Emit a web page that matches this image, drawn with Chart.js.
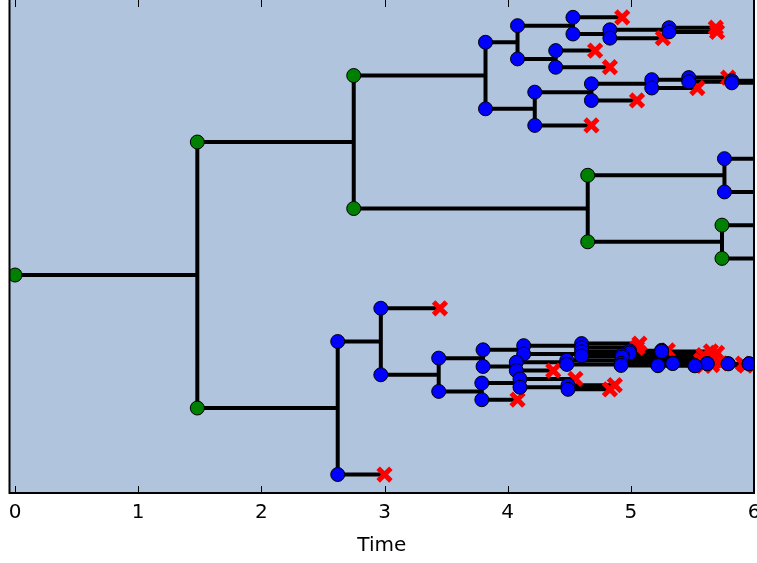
<!DOCTYPE html>
<html>
<head>
<meta charset="utf-8">
<script src="https://cdn.jsdelivr.net/npm/chart.js@4.4.1/dist/chart.umd.min.js"></script>
<style>
  body { margin: 0; background: #fff; }
  #wrap { width: 757px; height: 563px; }
</style>
</head>
<body>
<div id="wrap"><canvas id="tree" width="757" height="563"></canvas></div>
<script>
// lineage tree: one entry per node, index = node id
// parentOf: -1 for the root
const parentOf = [-1, 0, 0, 1, 1, 4, 4, 5, 5, 6, 6, 3, 3, 11, 11, 13, 13, 16, 16, 17,
  17, 14, 14, 12, 12, 23, 23, 25, 25, 27, 27, 30, 30, 2, 2, 34, 34, 36, 36, 37,
  37, 38, 38, 39, 39, 40, 40, 41, 41, 48, 48, 43, 43, 44, 44, 53, 53, 55, 55, 54,
  54, 45, 45, 62, 62, 63, 63, 66, 66, 68, 68, 70, 70, 64, 64, 74, 74];
// vertical position of each lineage
const yPos = [0, 1, -1, 1.5, 0.5, 0.75, 0.25, 0.875, 0.625, 0.375, 0.125, 1.75, 1.25, 1.875, 1.625, 1.9375, 1.8125, 1.8438, 1.7813, 1.8594,
  1.8281, 1.6875, 1.5625, 1.375, 1.125, 1.4375, 1.3125, 1.4688, 1.4063, 1.4844, 1.4531, 1.4609, 1.4453, -1.5, -0.5, -0.25, -0.75, -0.625, -0.875, -0.5625,
  -0.6875, -0.8125, -0.9375, -0.5313, -0.5938, -0.6563, -0.7188, -0.7813, -0.8438, -0.8281, -0.8594, -0.5156, -0.5469, -0.5781, -0.6094, -0.5703, -0.5859, -0.5664, -0.5742, -0.6016,
  -0.6172, -0.6406, -0.6719, -0.6641, -0.6797, -0.6621, -0.6660, -0.6650, -0.6670, -0.6665, -0.6675, -0.6672, -0.6677, -0.6777, -0.6816, -0.6807, -0.6826];
// time at which the lineage splits, dies or the run stops
const endTime = [1.48, 2.75, 2.62, 3.82, 4.65, 5.76, 5.74, 6, 6, 6, 6, 4.08, 4.22, 4.53, 4.39, 4.93, 4.83, 5.31, 5.26, 5.69,
  5.70, 4.71, 4.83, 4.68, 4.68, 5.17, 5.05, 5.47, 5.54, 5.79, 5.82, 6, 6, 3.00, 2.97, 3.45, 3.44, 3.80, 3.79, 4.13,
  4.07, 4.10, 4.08, 4.60, 4.60, 4.48, 4.37, 4.55, 4.49, 4.87, 4.83, 5.07, 5.05, 4.99, 4.93, 5.25, 5.70, 5.30, 5.65, 5.59,
  5.67, 5.57, 4.92, 5.34, 5.22, 5.61, 5.62, 5.73, 5.79, 5.91, 5.96, 6, 6, 5.66, 5.52, 5.93, 5.59];
// S = splits, X = goes extinct, A = still alive at the end
const fate = ['S', 'S', 'S', 'S', 'S', 'S', 'S', 'A', 'A', 'A',
  'A', 'S', 'S', 'S', 'S', 'X', 'S', 'S', 'X', 'X',
  'X', 'X', 'X', 'S', 'X', 'S', 'X', 'S', 'X', 'X',
  'S', 'A', 'A', 'X', 'S', 'X', 'S', 'S', 'S', 'S',
  'S', 'S', 'X', 'S', 'S', 'S', 'X', 'X', 'S', 'X',
  'X', 'X', 'X', 'S', 'S', 'S', 'X', 'X', 'X', 'X',
  'X', 'X', 'S', 'S', 'S', 'X', 'S', 'X', 'S', 'X',
  'S', 'A', 'A', 'X', 'S', 'X', 'X'];
// nodes drawn green; every other node is blue
const greenNodes = [0, 1, 2, 3, 4, 5, 6, 9, 10];
const xTicks = [0, 1, 2, 3, 4, 5, 6];

const bornAt = parentOf.map(p => p < 0 ? 0 : endTime[p]);

const branchPts = [];
yPos.forEach((y, i) => {
  branchPts.push({x: bornAt[i], y: y}, {x: endTime[i], y: y}, {x: null, y: null});
  if (fate[i] === 'S') {
    const kidY = yPos.filter((_, j) => parentOf[j] === i);
    branchPts.push({x: endTime[i], y: Math.min(...kidY)}, {x: endTime[i], y: Math.max(...kidY)}, {x: null, y: null});
  }
});
const greenPts = [], bluePts = [], deadPts = [];
yPos.forEach((y, i) => {
  (greenNodes.includes(i) ? greenPts : bluePts).push({x: bornAt[i], y: y});
  if (fate[i] === 'X') deadPts.push({x: endTime[i], y: y});
});

const framePlugin = {
  id: 'frame',
  beforeDraw(chart) {
    const {ctx, chartArea: a} = chart;
    ctx.save();
    ctx.fillStyle = '#fff';
    ctx.fillRect(0, 0, chart.width, chart.height);
    ctx.fillStyle = '#b0c4de';
    ctx.fillRect(a.left, a.top, a.right - a.left, a.bottom - a.top);
    ctx.restore();
  },
  afterDraw(chart) {
    const {ctx, chartArea: a, scales} = chart;
    const x = scales.x;
    ctx.save();
    ctx.strokeStyle = '#000';
    ctx.lineWidth = 1;
    ctx.beginPath();
    x.ticks.forEach(t => {
      const px = Math.round(x.getPixelForValue(t.value)) + 0.5;
      ctx.moveTo(px, a.bottom); ctx.lineTo(px, a.bottom - 7);
      ctx.moveTo(px, a.top); ctx.lineTo(px, a.top + 7);
    });
    ctx.stroke();
    ctx.lineWidth = 2;
    ctx.beginPath();
    ctx.moveTo(a.left, a.top - 2);
    ctx.lineTo(a.left, a.bottom);
    ctx.lineTo(a.right, a.bottom);
    ctx.lineTo(a.right, a.top - 2);
    ctx.stroke();
    ctx.restore();
  }
};

new Chart(document.getElementById('tree'), {
  type: 'scatter',
  data: {
    datasets: [
      {data: bluePts, backgroundColor: '#0000ff', borderColor: '#000', borderWidth: 1, pointRadius: 7, order: 0},
      {data: greenPts, backgroundColor: '#008000', borderColor: '#000', borderWidth: 1, pointRadius: 7, order: 1},
      {data: deadPts, pointStyle: 'crossRot', pointRadius: 9, borderColor: '#ff0000', borderWidth: 5, order: 2},
      {data: branchPts, showLine: true, spanGaps: false, borderColor: '#000', borderWidth: 4, pointRadius: 0, order: 3}
    ]
  },
  options: {
    responsive: false,
    animation: false,
    events: [],
    layout: {autoPadding: false, padding: {left: 9.5, right: 3, top: 0, bottom: 0}},
    plugins: {legend: {display: false}, tooltip: {enabled: false}},
    scales: {
      x: {
        type: 'linear',
        min: -0.045,
        max: 6,
        grid: {display: false, drawTicks: false},
        border: {display: false},
        ticks: {padding: 8, color: '#000', font: {family: 'DejaVu Sans', size: 20}},
        title: {display: true, text: 'Time', color: '#000', font: {family: 'DejaVu Sans', size: 20}, padding: {top: 6, bottom: 5}},
        afterBuildTicks: s => { s.ticks = xTicks.map(v => ({value: v})); },
        afterFit: s => { s.height = 70; s.paddingLeft = 0; s.paddingRight = 0; }
      },
      y: {
        display: false,
        min: -1.639,
        max: 2.068
      }
    }
  },
  plugins: [framePlugin]
});
</script>
</body>
</html>
